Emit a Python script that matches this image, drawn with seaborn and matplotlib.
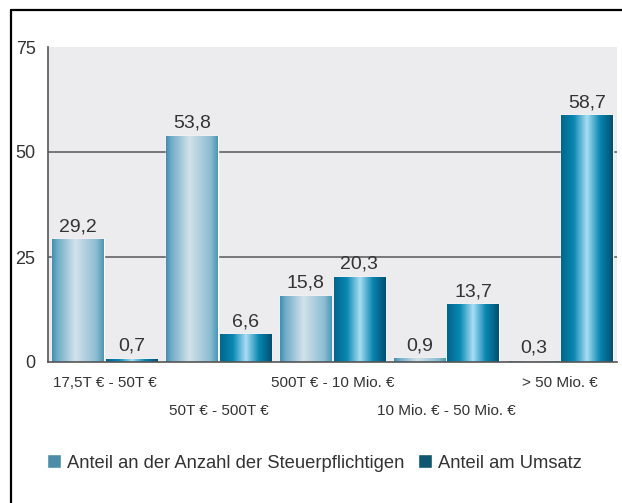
import matplotlib
matplotlib.use("Agg")
import matplotlib.pyplot as plt
import numpy as np
import pandas as pd
import seaborn as sns
from matplotlib.colors import LinearSegmentedColormap
from matplotlib.lines import Line2D

categories = [
    "17,5T € - 50T €",
    "50T € - 500T €",
    "500T € - 10 Mio. €",
    "10 Mio. € - 50 Mio. €",
    "> 50 Mio. €",
]
series_names = ["Anteil an der Anzahl der Steuerpflichtigen", "Anteil am Umsatz"]
anteil_anzahl = [29.2, 53.8, 15.8, 0.9, 0.3]
anteil_umsatz = [0.7, 6.6, 20.3, 13.7, 58.7]
y_ticks = [0, 25, 50, 75]

df = pd.DataFrame({
    "Klasse": categories * 2,
    "Serie": [series_names[0]] * len(categories) + [series_names[1]] * len(categories),
    "Wert": anteil_anzahl + anteil_umsatz,
})

sns.set_theme(style="white")
plt.rcParams["font.family"] = ["Liberation Sans", "DejaVu Sans"]

legend_colors = ["#3f93b7", "#005f80"]
cmaps = [
    LinearSegmentedColormap.from_list("hell", [
        (0.0, "#3f8fb0"), (0.1, "#6eabc7"), (0.45, "#d2e2ea"),
        (0.85, "#8dbdd3"), (1.0, "#4a97b6")]),
    LinearSegmentedColormap.from_list("dunkel", [
        (0.0, "#00658c"), (0.25, "#0a88b3"), (0.5, "#a8ddf4"),
        (0.75, "#0a86b0"), (1.0, "#004f72")]),
]

fig = plt.figure(figsize=(6.22, 5.03), dpi=100)
ax = fig.add_axes([48 / 622, 141 / 503, 569 / 622, 315 / 503])
ax.set_facecolor("#ececee")

sns.barplot(data=df, x="Klasse", y="Wert", hue="Serie", order=categories,
            hue_order=series_names, palette=legend_colors, width=0.94,
            gap=0.04, ax=ax, zorder=3)

# cylinder shading on every bar, clipped to the bar itself
grad = np.linspace(0, 1, 256).reshape(1, -1)
for container, cmap in zip(ax.containers, cmaps):
    for bar in container:
        x, y = bar.get_x(), bar.get_y()
        w, h = bar.get_width(), bar.get_height()
        im = ax.imshow(grad, extent=[x, x + w, y, y + h], aspect="auto",
                       cmap=cmap, zorder=3.5, interpolation="bilinear")
        im.set_clip_path(bar)
    ax.bar_label(container, fmt=lambda v: f"{v:.1f}".replace(".", ","),
                 padding=3, fontsize=14, color="#333333", zorder=5)

n = len(categories)
ax.set_xlim(-0.5, n - 0.5)
ax.set_ylim(0, 75)
ax.set_yticks(y_ticks)
ax.set_yticklabels([str(t) for t in y_ticks], fontsize=13, color="#333333")
for t in y_ticks[1:-1]:
    ax.axhline(t, color="#6e6e6e", lw=1.3, zorder=2)

ax.set_xticks(range(n))
ax.set_xticklabels(categories, fontsize=11, color="#333333")
ax.set_xticks(np.arange(n + 1) - 0.5, minor=True)
ax.tick_params(axis="x", which="major", length=0, pad=10)
ax.tick_params(axis="x", which="minor", length=5, width=1, color="#555555", direction="out")
ax.tick_params(axis="y", length=0, pad=9)
# every second label sits one row lower
for i, tick in enumerate(ax.xaxis.get_major_ticks()):
    if i % 2 == 1:
        tick.set_pad(30)
ax.set_xlabel("")
ax.set_ylabel("")

for side in ["top", "right"]:
    ax.spines[side].set_visible(False)
for side in ["left", "bottom"]:
    ax.spines[side].set_color("#555555")
    ax.spines[side].set_linewidth(1.2)
    ax.spines[side].set_zorder(6)

sns.move_legend(ax, "center left", bbox_to_anchor=(47 / 622, 40 / 503),
                bbox_transform=fig.transFigure, ncol=2, frameon=False,
                title=None, fontsize=13.2, handlelength=0.75, handleheight=0.75,
                handletextpad=0.35, columnspacing=0.75, borderpad=0, borderaxespad=0)
for txt in ax.get_legend().get_texts():
    txt.set_color("#333333")

# frame around the figure (only top and left visible in the crop)
fig.add_artist(Line2D([11 / 622, 11 / 622], [0, 1 - 10 / 503], color="black",
                      lw=1.6, transform=fig.transFigure))
fig.add_artist(Line2D([11 / 622, 1], [1 - 10 / 503, 1 - 10 / 503], color="black",
                      lw=1.6, transform=fig.transFigure))

fig.savefig("out.png", dpi=100)
